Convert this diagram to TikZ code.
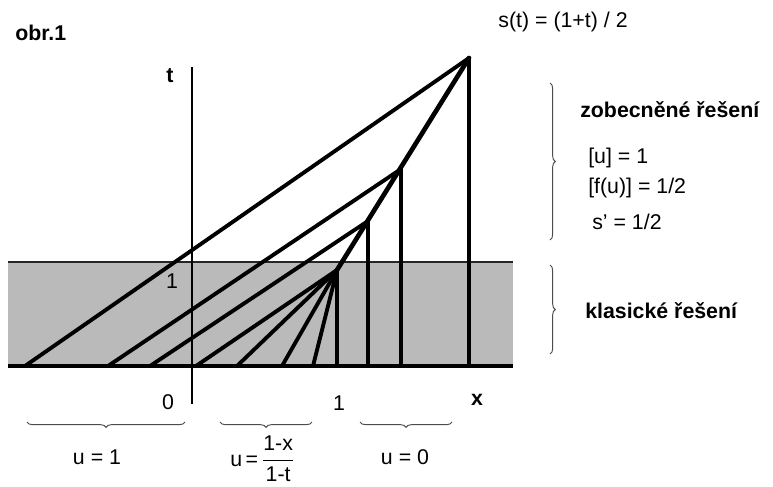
\documentclass[tikz,border=0pt]{standalone}
\usepackage{fontspec}
\setmainfont{Liberation Sans}
\usetikzlibrary{decorations.pathreplacing}
\definecolor{band}{RGB}{186,186,186}

\begin{document}
\begin{tikzpicture}[x=0.75pt, y=-0.75pt, font=\fontsize{16}{19}\selectfont,
    charline/.style={line width=2.9pt, line cap=round},
    axisline/.style={line width=2pt},
    curly/.style={decorate, decoration={brace, amplitude=4pt}, line width=0.7pt, black!70},
    lbl/.style={inner sep=0pt},
    title/.style={inner sep=0pt, font=\fontsize{16}{19}\selectfont\bfseries}]
  \useasboundingbox (0,0) rectangle (773,486);
  % klasicke reseni (pas 0 < t < 1)
  \fill[band] (8,262) rectangle (513,366);
  \draw[line width=1.5pt, black!85] (8,262) -- (513,262);
  \draw[line width=2.4pt] (8,366) -- (513,366);
  \draw[axisline] (192,67) -- (192,404);
  % body na razove vlne
  \coordinate (S0) at (337,270);
  \coordinate (S1) at (368,221);
  \coordinate (S2) at (401,169);
  \coordinate (S3) at (469,58);
  % charakteristiky u = 1
  \coordinate (A1) at (25,366);
  \coordinate (A2) at (108,366);
  \coordinate (A3) at (150,366);
  \draw[charline] (A1) -- (S3);
  \draw[charline] (A2) -- (S2);
  \draw[charline] (A3) -- (S1);
  % vejir
  \foreach \f [count=\i] in {196,237,282,313,337}
    \coordinate (F\i) at (\f,366);
  \foreach \i in {1,...,5}
    \draw[charline] (F\i) -- (S0);
  % charakteristiky u = 0
  \coordinate (V1) at (368,366);
  \coordinate (V2) at (401,366);
  \coordinate (V3) at (469,366);
  \draw[charline] (V1) -- (S1);
  \draw[charline] (V2) -- (S2);
  \draw[charline] (V3) -- (S3);
  % razova vlna
  \draw[line width=3.5pt, line cap=round] (S0) -- (S3);
  % popisky
  \node[title, anchor=west] (obr) at (15,33) {obr.1};
  \node[lbl] (shock) at (563,22) {s(t) = (1+t) / 2};
  \node[title] (tlab) at (170,76) {t};
  \node[lbl] (tone) at (172,281) {1};
  \node[lbl] (xzero) at (168,402) {0};
  \node[lbl] (xone) at (339,403) {1};
  \node[title] (xlab) at (477,400) {x};
  % spodni zavorky
  \draw[curly] (185,422) -- (27,422);
  \draw[curly] (312,422) -- (220,422);
  \draw[curly] (452,422) -- (360,422);
  \node[lbl] (uone) at (97,457) {u = 1};
  \node[lbl, anchor=west] (ufan) at (230,459)
    {u\,=\,$\displaystyle\frac{\mbox{1-x}\rule[-4pt]{0pt}{4pt}}{\mbox{\rule{0pt}{14pt}1-t}}$};
  \node[lbl] (uzero) at (405,457) {u = 0};
  % prave zavorky
  \draw[curly] (550,83) -- (550,240);
  \draw[curly] (550,265) -- (550,354);
  \node[title, anchor=west] (gen) at (580,110) {zobecněné řešení};
  \node[lbl, anchor=west] (jumpu) at (588,158) {[u] = 1};
  \node[lbl, anchor=west] (jumpf) at (588,188) {[f(u)] = 1/2};
  \node[lbl, anchor=west] (speed) at (592,222) {s' = 1/2};
  \node[title, anchor=west] (cls) at (585,311) {klasické řešení};
\end{tikzpicture}
\end{document}
